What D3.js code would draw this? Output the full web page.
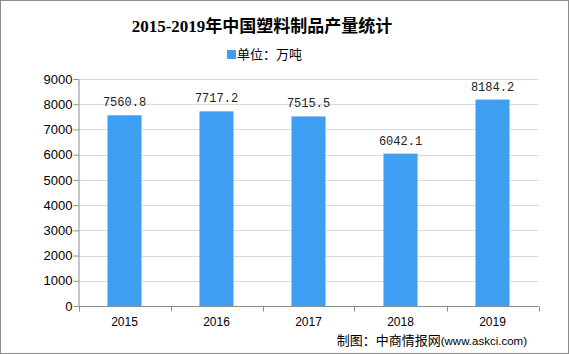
<!DOCTYPE html>
<html><head><meta charset="utf-8">
<script src="https://cdn.jsdelivr.net/npm/d3@7"></script>
<style>body{margin:0;background:#fff}svg{display:block}</style>
</head><body><svg id="c" width="569" height="354"></svg>
<script>
const years = ["2015","2016","2017","2018","2019"];
const values = [7560.8, 7717.2, 7515.5, 6042.1, 8184.2];
const yTicks = [0,1000,2000,3000,4000,5000,6000,7000,8000,9000];
const title = "2015-2019年中国塑料制品产量统计";
const legendLabel = "单位：万吨";
const sourceCn = "制图：中商情报网";
const sourceUrl = "(www.askci.com)";

(function(){
const svg = d3.select("#c");
const W = 569, H = 354;
svg.append("rect").attr("x",0.5).attr("y",0.5).attr("width",W-1).attr("height",H-1)
  .attr("fill","#fff").attr("stroke","#8c8c8c");

const pLeft = 78.5, pRight = 538.5, pTop = 79, pBottom = 306;
const x = d3.scaleBand().domain(years).range([pLeft,pRight]).paddingInner(0.63).paddingOuter(0.315);
const y = d3.scaleLinear().domain([0,9000]).range([pBottom,pTop]);

svg.append("g").selectAll("line").data(yTicks.filter(d=>d>0)).join("line")
  .attr("x1",pLeft).attr("x2",pRight).attr("y1",d=>Math.round(y(d))+0.5).attr("y2",d=>Math.round(y(d))+0.5)
  .attr("stroke","#d9d9d9");

svg.append("g").selectAll("rect").data(values).join("rect")
  .attr("x",(d,i)=>x(years[i])).attr("width",x.bandwidth())
  .attr("y",d=>y(d)).attr("height",d=>pBottom-y(d)).attr("fill","#3e9ef1");

svg.append("g").selectAll("text").data(values).join("text")
  .attr("x",(d,i)=>x(years[i])+x.bandwidth()/2).attr("y",d=>y(d)-9)
  .attr("text-anchor","middle").attr("font-family","Liberation Mono, DejaVu Sans Mono, monospace")
  .attr("font-size",12).attr("fill","#222").text(d=>d.toFixed(1));

const ya = d3.axisLeft(y).tickValues(yTicks).tickSize(5).tickSizeOuter(0).tickFormat(d3.format("d"));
const gy = svg.append("g").attr("transform",`translate(${pLeft},0)`).call(ya);
gy.select(".domain").attr("stroke","#8c8c8c");
gy.selectAll(".tick line").attr("stroke","#8c8c8c");
gy.selectAll(".tick text").attr("font-family","Liberation Sans, Arial, sans-serif").attr("font-size",13).attr("fill","#000").attr("x",-6);

const xb = d3.scaleLinear().domain([0,years.length]).range([pLeft,pRight]);
const gx = svg.append("g").attr("transform",`translate(0,${pBottom+0.5})`);
gx.append("line").attr("x1",pLeft).attr("x2",pRight).attr("stroke","#8c8c8c");
gx.selectAll("line.t").data(d3.range(years.length+1)).join("line").attr("class","t")
  .attr("x1",d=>Math.round(xb(d))+0.5).attr("x2",d=>Math.round(xb(d))+0.5).attr("y1",0).attr("y2",5).attr("stroke","#8c8c8c");
gx.selectAll("text").data(years).join("text")
  .attr("x",d=>x(d)+x.bandwidth()/2).attr("y",19).attr("text-anchor","middle")
  .attr("font-family","Liberation Sans, Arial, sans-serif").attr("font-size",12).attr("fill","#000").text(d=>d);

svg.append("text").attr("x",262).attr("y",32).attr("text-anchor","middle")
  .attr("font-family","Liberation Serif, Noto Sans CJK SC, serif").attr("font-weight","bold").attr("font-size",17).attr("fill","#000").text(title);

svg.append("rect").attr("x",227).attr("y",50).attr("width",9).attr("height",9).attr("fill","#3e9ef1");
svg.append("text").attr("x",237).attr("y",59).attr("font-family","Noto Sans CJK SC, sans-serif")
  .attr("font-size",13).attr("fill","#000").text(legendLabel);

const src = svg.append("text").attr("x",527).attr("y",345).attr("text-anchor","end").attr("fill","#000");
src.append("tspan").attr("font-family","Noto Sans CJK SC, sans-serif").attr("font-size",13).text(sourceCn);
src.append("tspan").attr("font-family","Liberation Sans, Arial, sans-serif").attr("font-size",11.5).text(sourceUrl);
})();
</script></body></html>
